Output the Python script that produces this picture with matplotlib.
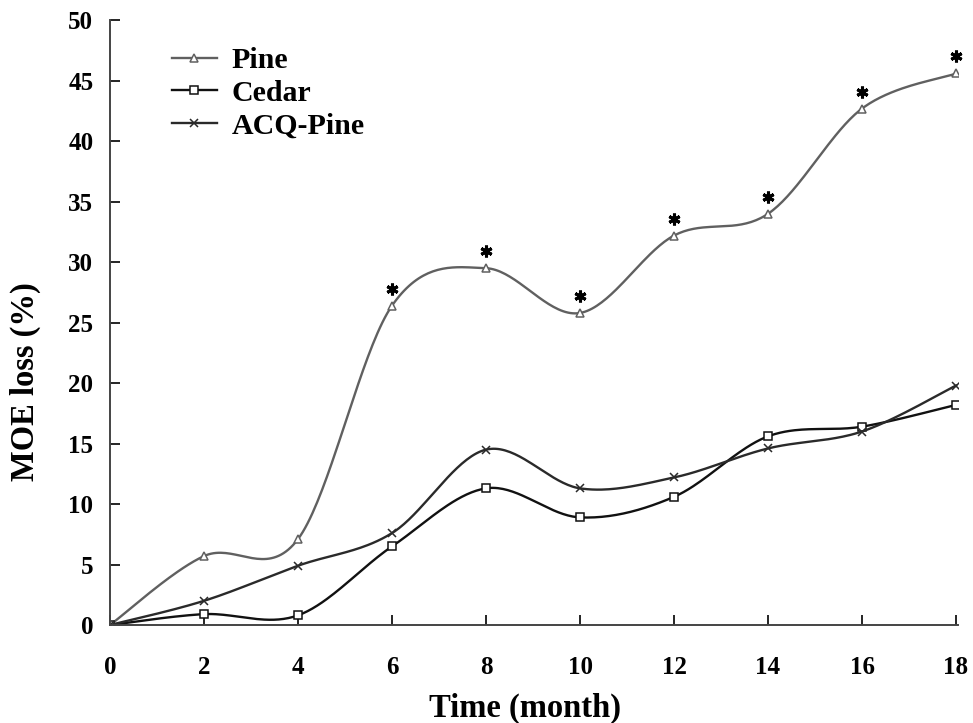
import matplotlib
matplotlib.use("Agg")
import matplotlib.pyplot as plt
import matplotlib.transforms as mtransforms
import numpy as np

months = [0, 2, 4, 6, 8, 10, 12, 14, 16, 18]
pine = [0, 5.7, 7.1, 26.4, 29.5, 25.8, 32.2, 34.0, 42.7, 45.6]
cedar = [0, 0.9, 0.8, 6.5, 11.3, 8.9, 10.6, 15.6, 16.4, 18.2]
acq_pine = [0, 2.0, 4.9, 7.6, 14.5, 11.3, 12.2, 14.6, 16.0, 19.8]
significant = [6, 8, 10, 12, 14, 16, 18]

plt.rcParams['font.family'] = ['Liberation Serif', 'DejaVu Serif']
plt.rcParams['font.weight'] = 'bold'


def smooth(x, y, n=40):
    # Excel-style smoothed line (Catmull-Rom through the points)
    x = np.asarray(x, float)
    y = np.asarray(y, float)
    px = np.concatenate([[x[0]], x, [x[-1]]])
    py = np.concatenate([[y[0]], y, [y[-1]]])
    xs, ys = [], []
    for i in range(1, len(px) - 2):
        t = np.linspace(0, 1, n)
        p0, p1, p2, p3 = px[i - 1], px[i], px[i + 1], px[i + 2]
        q0, q1, q2, q3 = py[i - 1], py[i], py[i + 1], py[i + 2]
        c1x, c1y = p1 + (p2 - p0) / 6, q1 + (q2 - q0) / 6
        c2x, c2y = p2 - (p3 - p1) / 6, q2 - (q3 - q1) / 6
        b = [(1 - t) ** 3, 3 * (1 - t) ** 2 * t, 3 * (1 - t) * t ** 2, t ** 3]
        xs.append(b[0] * p1 + b[1] * c1x + b[2] * c2x + b[3] * p2)
        ys.append(b[0] * q1 + b[1] * c1y + b[2] * c2y + b[3] * q2)
    return np.concatenate(xs), np.concatenate(ys)


fig = plt.figure(figsize=(9.73, 7.23), dpi=100)
ax = fig.add_axes([0.113, 0.1355, 0.872, 0.8365])

series = [
    ("Pine", pine, "#606060", "^"),
    ("Cedar", cedar, "#111111", "s"),
    ("ACQ-Pine", acq_pine, "#2a2a2a", "x"),
]
for name, vals, col, mk in series:
    sx, sy = smooth(months, vals)
    ax.plot(sx, sy, color=col, lw=1.7)
    ax.plot(months, vals, linestyle="none", marker=mk, ms=6, mfc="white",
            mec=col, mew=1.1)
    ax.plot([], [], color=col, lw=1.7, marker=mk, ms=6, mfc="white", mec=col,
            mew=1.1, label=name)

# significance stars above the Pine points
star_tr = mtransforms.offset_copy(ax.transData, fig=fig, y=17, units="dots")
sig_vals = [pine[months.index(m)] for m in significant]
ax.plot(significant, sig_vals, linestyle="none", marker=(6, 2, 0), ms=8.5,
        mew=2.2, color="black", transform=star_tr, clip_on=False)

ax.set_xlim(0, 18.05)
ax.set_ylim(0, 50)
ax.set_xticks(range(0, 19, 2))
ax.set_yticks(range(0, 51, 5))
ax.tick_params(direction="in", length=7, width=1.2, labelsize=18)
ax.tick_params(axis="x", pad=22)
ax.tick_params(axis="y", pad=12)
for s in ("top", "right"):
    ax.spines[s].set_visible(False)
for s in ("left", "bottom"):
    ax.spines[s].set_linewidth(1.4)
    ax.spines[s].set_color("#444444")

ax.set_xlabel("Time (month)", fontsize=23.5, fontweight="bold")
ax.set_ylabel("MOE loss (%)", fontsize=23.5, fontweight="bold")
ax.xaxis.set_label_coords(0.489, -0.112)
ax.yaxis.set_label_coords(-0.081, 0.403)

ax.legend(loc="upper left", bbox_to_anchor=(0.073, 0.955), frameon=False,
          fontsize=21.5, handlelength=1.5, handletextpad=0.5,
          labelspacing=0.18, borderpad=0, borderaxespad=0)

fig.savefig("out.png", dpi=100)
